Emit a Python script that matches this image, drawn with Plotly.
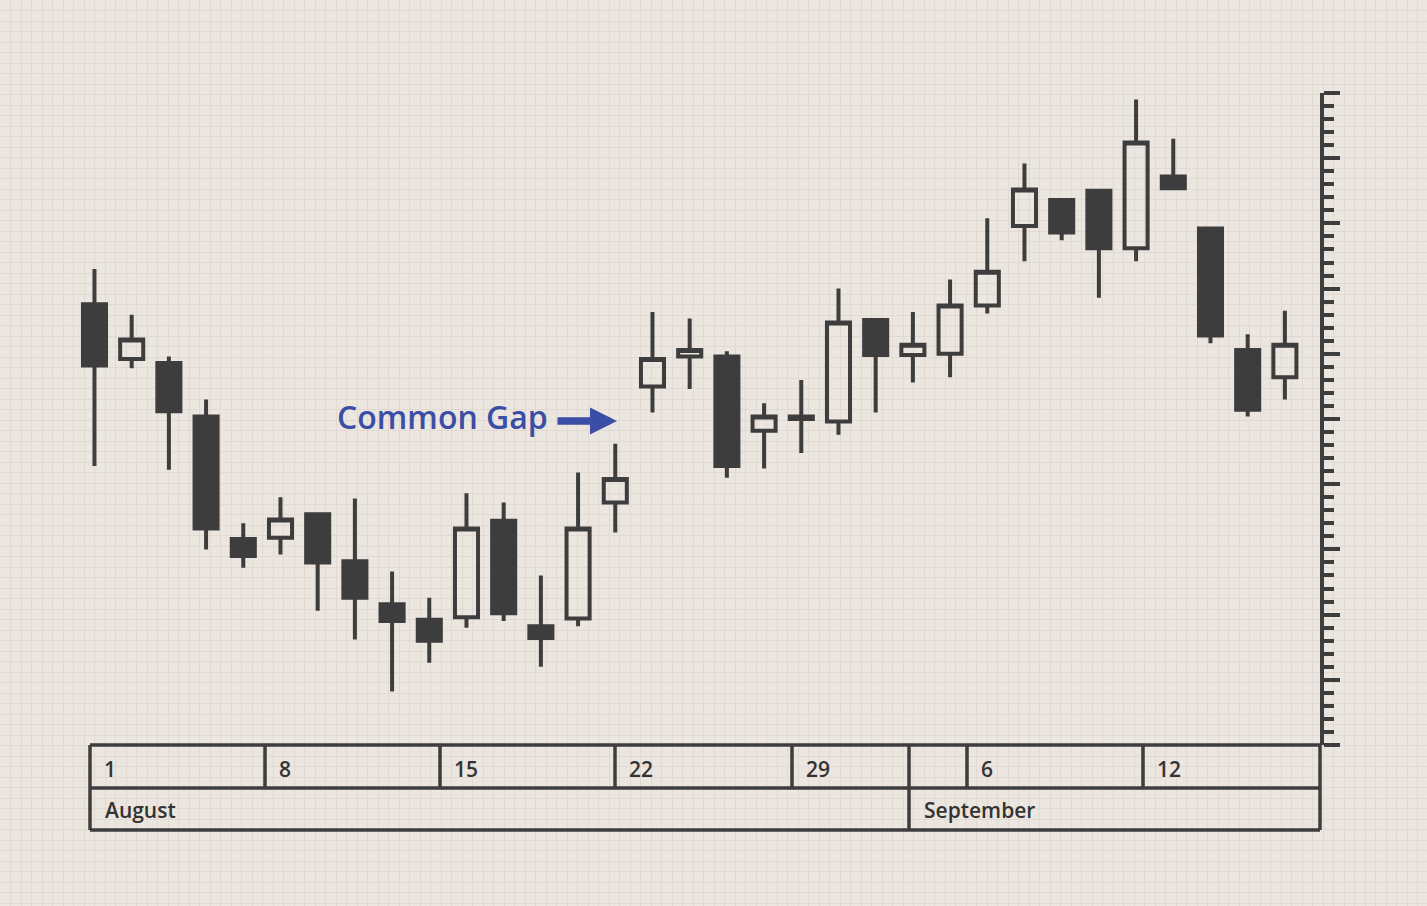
import plotly.graph_objects as go

# sessions from 1 August to mid September, one candle per session
sessions = list(range(33))
opens = [43.8, 39.6, 39.3, 35.2, 25.8, 25.9, 27.7, 24.1, 20.8, 19.6, 19.8,
         27.2, 19.1, 19.7, 28.6, 37.5, 39.8, 39.8, 34.1, 35.2, 34.8, 42.6,
         39.9, 40.0, 43.7, 49.8, 51.8, 52.5, 48.1, 53.6, 49.6, 40.3, 38.2]
highs = [46.5, 43.0, 39.8, 36.5, 27.0, 29.0, 27.7, 28.9, 23.3, 21.3, 29.3,
         28.6, 23.0, 30.9, 33.1, 43.2, 42.7, 40.2, 36.2, 38.0, 45.0, 42.6,
         43.2, 45.7, 50.4, 54.6, 51.8, 52.5, 59.5, 56.5, 49.6, 41.5, 43.3]
lows = [31.4, 38.9, 31.1, 25.0, 23.6, 24.6, 20.3, 18.1, 14.1, 16.3, 19.0,
        19.5, 16.0, 19.1, 26.3, 35.5, 37.3, 30.5, 31.2, 32.4, 33.8, 35.5,
        37.8, 38.2, 43.1, 47.1, 48.7, 44.3, 47.1, 52.7, 40.8, 35.2, 36.5]
closes = [39.1, 41.1, 35.6, 26.6, 24.5, 27.3, 24.0, 21.3, 19.5, 18.0, 26.6,
          20.1, 18.2, 26.6, 30.4, 39.6, 40.3, 31.4, 35.2, 35.0, 42.4, 39.9,
          40.7, 43.7, 46.3, 52.6, 49.3, 48.1, 56.2, 52.7, 41.4, 35.7, 40.7]

# date table under the chart
day_labels = ["1", "8", "15", "22", "29", "6", "12"]
month_labels = ["August", "September"]

W, H = 1427, 906
BG = "#ece6e0"
GRID = "#e2d9d3"
DARK = "#3d3d3d"
BLUE = "#3a4ea6"
FONT = "Open Sans"

fig = go.Figure()

fig.add_trace(go.Candlestick(
    x=sessions, open=opens, high=highs, low=lows, close=closes,
    xaxis="x2", yaxis="y2",
    increasing=dict(line=dict(color=DARK, width=4), fillcolor="rgba(0,0,0,0)"),
    decreasing=dict(line=dict(color=DARK, width=4), fillcolor=DARK),
    whiskerwidth=0,
    hoverinfo="skip",
))

# full-page graph paper: x/y axes are in page pixels
fig.update_layout(
    width=W, height=H,
    margin=dict(l=0, r=0, t=0, b=0, pad=0),
    paper_bgcolor=BG,
    plot_bgcolor="rgba(0,0,0,0)",
    showlegend=False,
    boxgap=0.38, boxgroupgap=0,
    font=dict(family=FONT, color="#333333"),
    xaxis=dict(domain=[0, 1], range=[0, W], showgrid=True, gridcolor=GRID,
               gridwidth=1, tick0=0, dtick=10.5, showticklabels=False,
               zeroline=False, ticks="", fixedrange=True),
    yaxis=dict(domain=[0, 1], range=[H, 0], showgrid=True, gridcolor=GRID,
               gridwidth=1, tick0=0, dtick=10.5, showticklabels=False,
               zeroline=False, ticks="", fixedrange=True),
    # candle axes: session 0 sits near 94px, ~37.2px per session, axis at 1320px
    xaxis2=dict(domain=[60 / W, 1320 / W], range=[-0.927, 32.944], anchor="y2",
                visible=False, rangeslider=dict(visible=False)),
    yaxis2=dict(domain=[1 - 745 / H, 1 - 93 / H], range=[10, 60], anchor="x2",
                side="right", showline=True, linewidth=4, linecolor=DARK,
                ticks="outside", ticklen=16, tickwidth=4, tickcolor=DARK,
                tick0=10, dtick=5, showticklabels=False, showgrid=False,
                zeroline=False,
                minor=dict(dtick=1, ticks="outside", ticklen=10, tickwidth=4,
                           tickcolor=DARK, showgrid=False)),
)

# table frame (page pixels)
line = dict(color=DARK, width=3.5)
for y in [745, 788, 830]:
    fig.add_shape(type="line", xref="x", yref="y", x0=90, x1=1320, y0=y, y1=y, line=line)
for x in [90, 909, 1320]:
    fig.add_shape(type="line", xref="x", yref="y", x0=x, x1=x, y0=745, y1=830, line=line)
day_cells = [90, 265, 440, 615, 792, 967, 1143]
for x in day_cells[1:]:
    fig.add_shape(type="line", xref="x", yref="y", x0=x, x1=x, y0=745, y1=788, line=line)

for label, x in zip(day_labels, day_cells):
    fig.add_annotation(text=label, x=x + 12, y=769, xref="x", yref="y",
                       xanchor="left", yanchor="middle", showarrow=False,
                       font=dict(size=21, color="#333333", weight=600))
for label, x in zip(month_labels, [90, 909]):
    fig.add_annotation(text=label, x=x + 13, y=810, xref="x", yref="y",
                       xanchor="left", yanchor="middle", showarrow=False,
                       font=dict(size=21, color="#333333", weight=600))

# gap label and arrow
fig.add_annotation(text="Common Gap", x=335, y=416, xref="x", yref="y",
                   xanchor="left", yanchor="middle", showarrow=False,
                   font=dict(size=32, color=BLUE, weight=600))
fig.add_annotation(text="", x=617, y=421, ax=556, ay=421, xref="x", yref="y",
                   axref="x", ayref="y", showarrow=True, arrowhead=2,
                   arrowwidth=7.5, arrowsize=0.72, arrowcolor=BLUE)

fig.write_html("out.html", config={"displayModeBar": False},
               post_script="document.body.style.margin='0';")
